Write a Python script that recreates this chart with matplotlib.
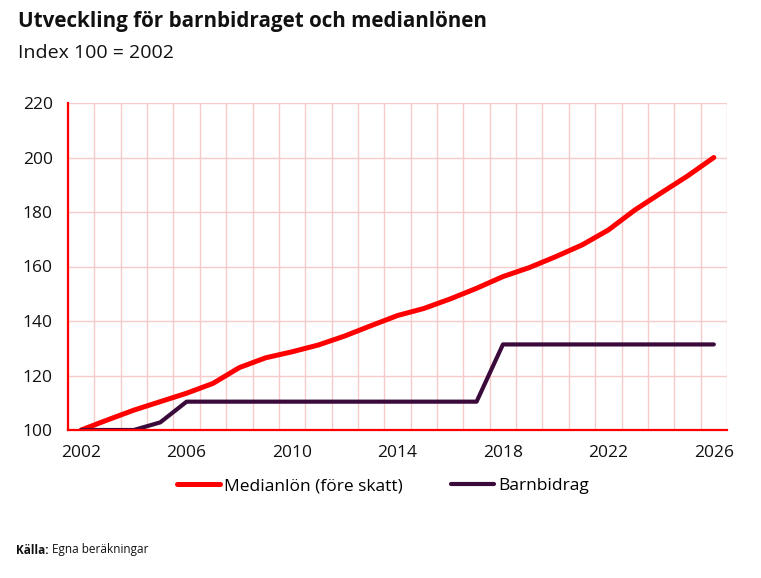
import matplotlib
matplotlib.use("Agg")
import matplotlib.pyplot as plt
import numpy as np

# data
years = list(range(2002, 2027))
medianlon = [100, 103.7, 107.3, 110.4, 113.5, 117.1, 122.9, 126.5, 128.7, 131.2,
             134.5, 138.3, 142.0, 144.6, 148.1, 152.0, 156.3, 159.6, 163.6, 167.9,
             173.4, 180.7, 187.0, 193.2, 200.0]
barnbidrag = [100, 100, 100, 102.8, 110.4, 110.4, 110.4, 110.4, 110.4, 110.4,
              110.4, 110.4, 110.4, 110.4, 110.4, 110.4, 131.4, 131.4, 131.4, 131.4,
              131.4, 131.4, 131.4, 131.4, 131.4]
x_ticks = [2002, 2006, 2010, 2014, 2018, 2022, 2026]
y_ticks = [100, 120, 140, 160, 180, 200, 220]

RED = "#FF0000"
PURPLE = "#3A0A3A"
GRID = "#F9CACA"

plt.rcParams['font.family'] = ['Open Sans', 'DejaVu Sans']

fig = plt.figure(figsize=(7.61, 5.78), dpi=100)
ax = fig.add_axes([68/761, 1 - 430/578, (727 - 68)/761, (430 - 103)/578])

ax.plot(years, medianlon, color=RED, lw=3.6, solid_capstyle="round",
        solid_joinstyle="round", label="Medianlön (före skatt)", zorder=3)
ax.plot(years, barnbidrag, color=PURPLE, lw=3.0, solid_capstyle="round",
        solid_joinstyle="round", label="Barnbidrag", zorder=3)

ax.set_xlim(2001.5, 2026.5)
ax.set_ylim(100, 220)
ax.set_xticks(x_ticks)
ax.set_yticks(y_ticks)
ax.set_xticks(np.arange(2001.5, 2027, 1), minor=True)
ax.tick_params(axis="both", which="both", length=0, labelsize=12.5, pad=11,
               labelcolor="#111111")
ax.grid(True, which="minor", axis="x", color=GRID, lw=1)
ax.grid(True, which="major", axis="y", color=GRID, lw=1)
ax.set_axisbelow(True)

for s in ["top", "right"]:
    ax.spines[s].set_visible(False)
for s in ["left", "bottom"]:
    ax.spines[s].set_color(RED)
    ax.spines[s].set_linewidth(1.6)
    ax.spines[s].set_zorder(4)

fig.legend(loc="center", bbox_to_anchor=(0.503, 1 - 486/578), ncol=2,
           frameon=False, fontsize=12.5, handlelength=2.5, handletextpad=0.2,
           columnspacing=2.8)

fig.text(18/761, 1 - 22/578, "Utveckling för barnbidraget och medianlönen",
         fontsize=14.9, fontweight="bold", va="center", ha="left", color="#111111")
fig.text(18/761, 1 - 53/578, "Index 100 = 2002", fontsize=14, va="center",
         ha="left", color="#111111")

src = fig.text(16/761, 1 - 550/578, "Källa:", fontsize=8.5, fontweight="bold",
               va="center", ha="left", color="#111111")
fig.canvas.draw()
bb = src.get_window_extent(fig.canvas.get_renderer())
fig.text((bb.x1 + 4) / fig.bbox.width, 1 - 550/578, "Egna beräkningar",
         fontsize=8.5, va="center", ha="left", color="#111111")

fig.savefig("out.png", dpi=100)
